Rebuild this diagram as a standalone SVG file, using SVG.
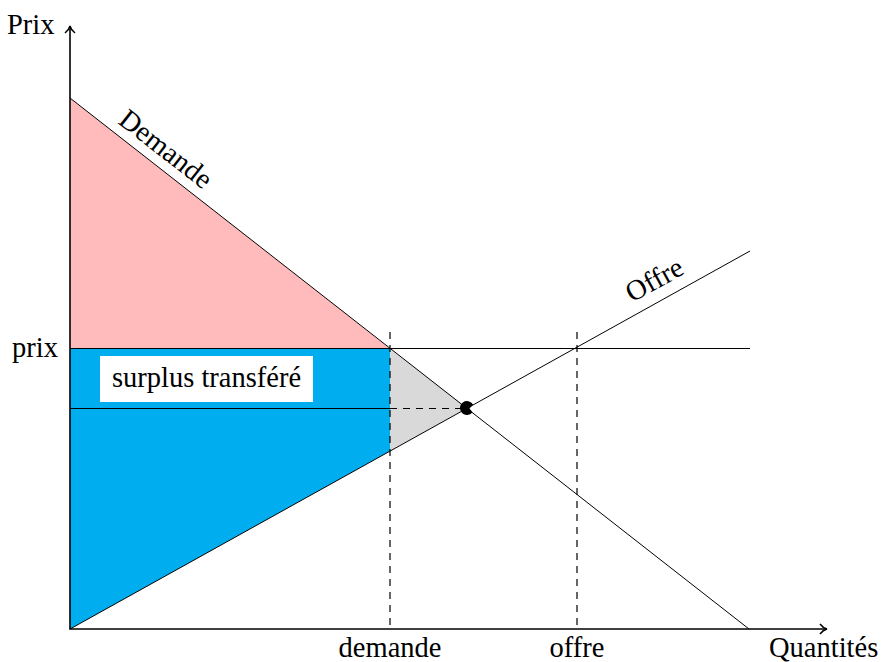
<svg xmlns="http://www.w3.org/2000/svg" width="884" height="662" viewBox="0 0 884 662">
<defs>
<style>
text{font-family:"Liberation Serif","Times New Roman",serif;font-size:28.5px;fill:#000}
.thin{stroke:#000;stroke-width:1;fill:none}
.dash{stroke:#000;stroke-width:1.2;fill:none;stroke-dasharray:7,6}
.axis{stroke:#000;stroke-width:1.6;fill:none}
</style>
<marker id="arr" markerWidth="10" markerHeight="12" refX="8" refY="6" orient="auto" markerUnits="userSpaceOnUse">
<path d="M1,1 Q4,5 8,6 Q4,7 1,11" fill="none" stroke="#000" stroke-width="1.5"/>
</marker>
</defs>
<rect width="884" height="662" fill="#fff"/>
<g id="areas">
<polygon points="70,98 390,348.5 70,348.5" fill="#FFBBBB"/>
<polygon points="70,348.5 390,348.5 390,451 70,629" fill="#00AEEF"/>
<polygon points="390,348.5 467,408 390,451" fill="#D9D9D9"/>
</g>
<g id="label-box">
<rect x="100" y="356" width="213" height="46" fill="#fff"/>
<text x="206.5" y="387" text-anchor="middle">surplus transféré</text>
</g>
<g id="connectors">
<line class="thin" x1="70" y1="98" x2="749" y2="629"/>
<line class="thin" x1="70" y1="629" x2="750" y2="251"/>
<line class="thin" x1="70" y1="348.5" x2="750" y2="348.5"/>
<line class="thin" x1="70" y1="408.5" x2="390" y2="408.5"/>
<line class="dash" x1="390" y1="408.5" x2="467" y2="408.5"/>
<line class="dash" x1="390" y1="332" x2="390" y2="629"/>
<line class="dash" x1="577" y1="332" x2="577" y2="629"/>
</g>
<g id="axes">
<line class="axis" x1="70" y1="629" x2="70" y2="26" marker-end="url(#arr)"/>
<line class="axis" x1="69.2" y1="629" x2="827" y2="629" marker-end="url(#arr)"/>
</g>
<g id="equilibrium">
<path d="M473.1,404.6 A7,7 0 1 0 472.5,412.3 L469.5,408.5 Z" fill="#000"/>
</g>
<g id="labels">
<text x="7" y="34">Prix</text>
<text x="58" y="357" text-anchor="end">prix</text>
<text x="390" y="657" text-anchor="middle">demande</text>
<text x="577" y="657" text-anchor="middle">offre</text>
<text x="769" y="657">Quantités</text>
<text transform="translate(165,150) rotate(38)" x="0" y="8" text-anchor="middle">Demande</text>
<text transform="translate(655,281) rotate(-29)" x="0" y="8" text-anchor="middle">Offre</text>
</g>
</svg>
